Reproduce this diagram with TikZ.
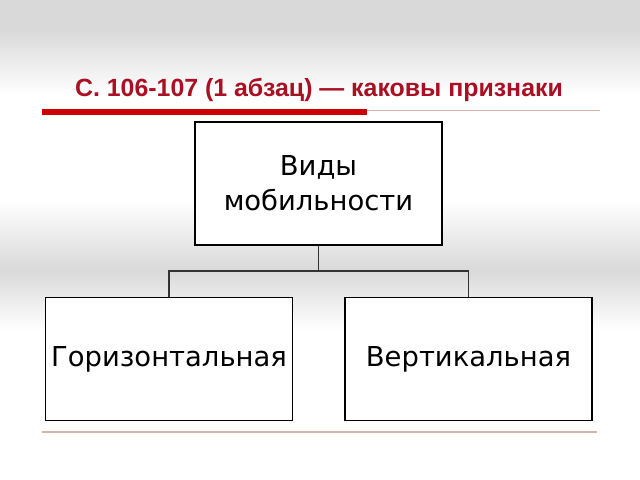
\documentclass[tikz,border=0pt]{standalone}
\usepackage{fontspec}
\setmainfont{DejaVu Sans}
\newfontfamily\titlefont{Liberation Sans}
\usetikzlibrary{positioning}

\definecolor{bggray}{RGB}{217,217,217}
\definecolor{titlered}{RGB}{170,16,36}
\definecolor{barred}{RGB}{204,0,0}
\definecolor{rulepink}{RGB}{216,180,168}

\tikzset{
  kind/.style={draw=black, line width=1.3pt, fill=white, minimum width=6.175cm,
    minimum height=3.075cm, inner sep=0pt, align=center,
    font=\fontsize{19.5}{25}\selectfont},
  link/.style={draw=black!80, line width=0.8pt}
}

\begin{document}
\begin{tikzpicture}[x=0.025cm, y=-0.025cm]
            \useasboundingbox (0,0) rectangle (640,480);
            \fill[bggray] (0,0) rectangle (640,30);
            \shade[top color=bggray, bottom color=white] (0,30) rectangle (640,95);
            \shade[top color=white, bottom color=bggray] (0,200) rectangle (640,270);
            \shade[top color=bggray, bottom color=white] (0,270) rectangle (640,330);

            \node[text=titlered, font=\titlefont\bfseries\fontsize{17.7}{20}\selectfont] (title) at (319,90) {С. 106-107 (1 абзац) — каковы признаки};
            \fill[barred] (42,109) rectangle (367,115);
            \draw[rulepink, line width=0.6pt] (367,110) -- (600,110);
            \draw[rulepink, line width=1.4pt] (42,432) -- (597,432);

            \node[kind] (types) at (318.5,183.5) {Виды\\мобильности};
            \node[kind] (horiz) at (169,359) {Горизонтальная};
            \node[kind] (vert) at (468.5,359) {Вертикальная};

            \coordinate (split) at (318.5,271);
            \draw[link] (types.south) -- (split);
            \draw[link] (horiz.north) |- (split) -| (vert.north);
        \end{tikzpicture}
\end{document}
